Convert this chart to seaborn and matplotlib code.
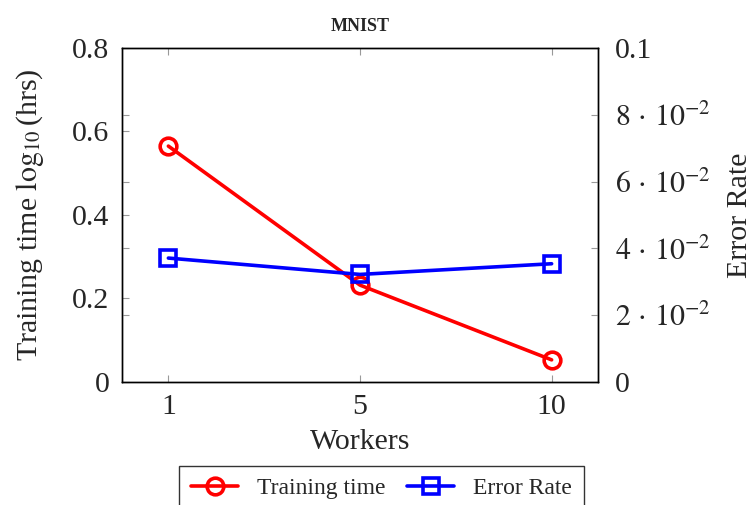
import numpy as np
import pandas as pd
import matplotlib
matplotlib.use("Agg")
import matplotlib.pyplot as plt
import seaborn as sns

# data
workers = ["1", "5", "10"]
training_time = [0.565, 0.232, 0.053]
error_rate = [0.0371, 0.0322, 0.0354]

left_ticks = [0, 0.2, 0.4, 0.6, 0.8]
left_labels = ["0", "0.2", "0.4", "0.6", "0.8"]
right_ticks = [0, 0.02, 0.04, 0.06, 0.08, 0.1]
right_labels = ["0", r"$2\,\cdot\,10^{-2}$", r"$4\,\cdot\,10^{-2}$", r"$6\,\cdot\,10^{-2}$",
                r"$8\,\cdot\,10^{-2}$", "0.1"]

sns.set_style("ticks")
plt.rcParams["font.family"] = ["Liberation Serif", "DejaVu Serif"]
plt.rcParams["mathtext.fontset"] = "stix"

df = pd.DataFrame({"pos": np.arange(len(workers)),
                   "time": training_time,
                   "err": error_rate})

fig = plt.figure(figsize=(7.54, 5.05), dpi=100)
ax = fig.add_axes([0.1618, 0.2436, 0.6313, 0.6614])
ax2 = ax.twinx()

sns.lineplot(data=df, x="pos", y="time", ax=ax, color="red", lw=2.6,
             marker="o", markersize=12, markerfacecolor="none",
             markeredgecolor="red", markeredgewidth=2.6, label="Training time",
             legend=False)
sns.lineplot(data=df, x="pos", y="err", ax=ax2, color="blue", lw=2.6,
             marker="s", markersize=11, markerfacecolor="none",
             markeredgecolor="blue", markeredgewidth=2.6, label="Error Rate",
             legend=False)

ax.set_xlim(-0.242, 2.242)
ax.set_ylim(0, 0.8)
ax2.set_ylim(0, 0.1)
ax.set_xticks(df["pos"])
ax.set_xticklabels(workers)
ax.set_yticks(left_ticks)
ax.set_yticklabels(left_labels)
ax2.set_yticks(right_ticks)
ax2.set_yticklabels(right_labels)

fs = 21.5
ax.tick_params(axis="both", direction="in", length=5, width=0.8, color="#999999",
               labelsize=fs, pad=9, top=True, right=False)
ax2.yaxis.set_ticks_position("both")
ax2.tick_params(axis="y", direction="in", length=5, width=0.8, color="#999999",
                labelsize=fs, pad=12, labelleft=False, labelright=True)

for a in (ax, ax2):
    for s in a.spines.values():
        s.set_color("black")
        s.set_linewidth(1.0)

ax.set_xlabel("Workers", fontsize=fs)
ax.set_ylabel(r"Training time $\log_{10}$(hrs)", fontsize=fs)
ax2.set_ylabel("Error Rate", fontsize=fs)
ax.xaxis.set_label_coords(0.5, -0.14)
ax.yaxis.set_label_coords(-0.16, 0.5)
ax2.yaxis.set_label_coords(1.27, 0.5)
ax.set_title("MNIST", fontsize=13, fontweight="bold", pad=12)

handles = ax.get_lines()[:1] + ax2.get_lines()[:1]
fig.legend(handles, ["Training time", "Error Rate"], loc="upper center",
           bbox_to_anchor=(0.506, 0.077), ncol=2, fontsize=17, frameon=True,
           fancybox=False, edgecolor="black", handlelength=2.0,
           columnspacing=0.9, borderpad=0.5, borderaxespad=0)

fig.savefig("out.png", dpi=100)
